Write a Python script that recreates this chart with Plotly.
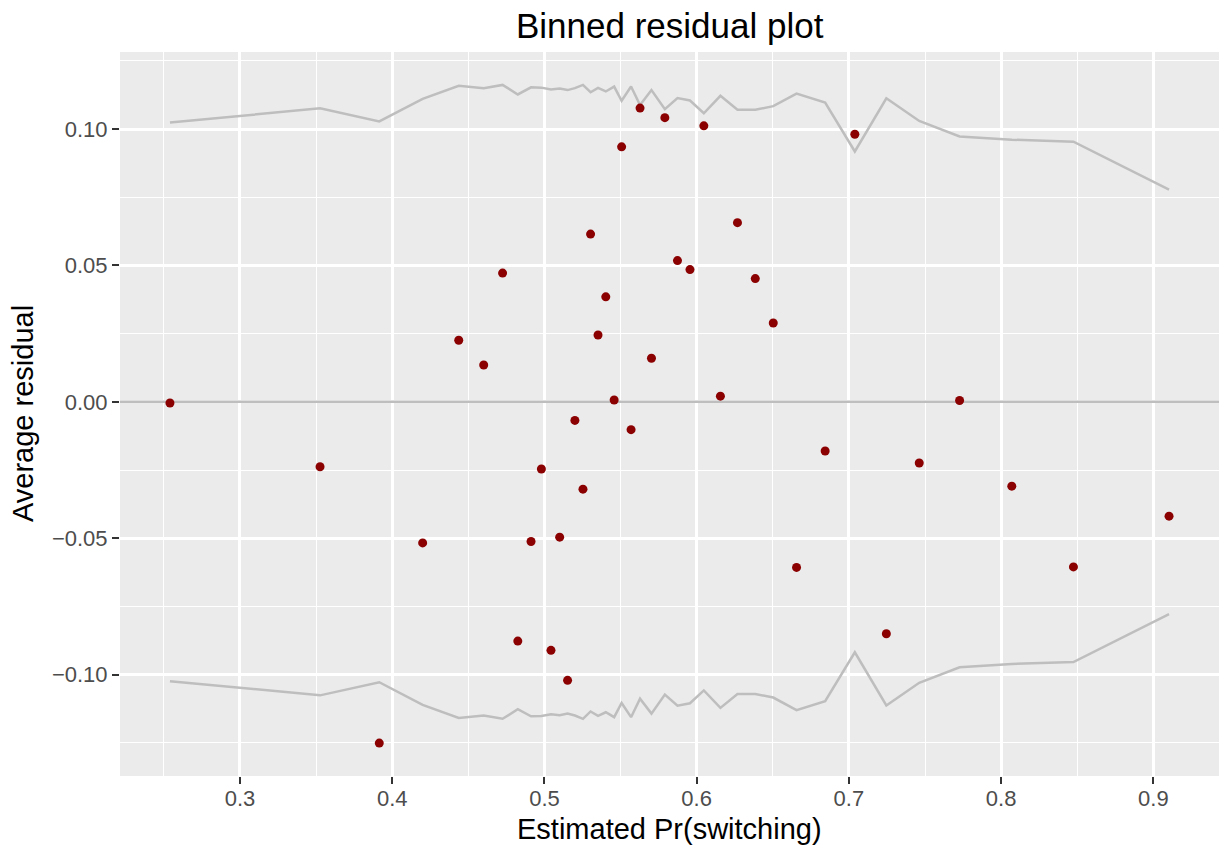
import plotly.graph_objects as go

# Binned residuals: mean estimated probability per bin, average residual, +/- 2 SE bound
est_pr = [0.254, 0.3526, 0.3915, 0.4200, 0.4437, 0.4601, 0.4725, 0.4825, 0.4912, 0.4980,
          0.5043, 0.5100, 0.5152, 0.5200, 0.5253, 0.5303, 0.5352, 0.5403, 0.5458, 0.5507,
          0.5569, 0.5628, 0.5703, 0.5791, 0.5874, 0.5956, 0.6047, 0.6156, 0.6268, 0.6385,
          0.6503, 0.6656, 0.6844, 0.7039, 0.7246, 0.7462, 0.7727, 0.8070, 0.8475, 0.9103]
avg_resid = [-0.0004, -0.0238, -0.1251, -0.0517, 0.0226, 0.0135, 0.0472, -0.0877, -0.0512, -0.0246,
             -0.0911, -0.0496, -0.1021, -0.0068, -0.0320, 0.0615, 0.0245, 0.0385, 0.0007, 0.0935,
             -0.0102, 0.1077, 0.0160, 0.1042, 0.0518, 0.0485, 0.1012, 0.0021, 0.0657, 0.0452,
             0.0289, -0.0607, -0.0180, 0.0981, -0.0850, -0.0224, 0.0005, -0.0309, -0.0605, -0.0419]
bound = [0.1024, 0.1076, 0.1028, 0.1111, 0.1159, 0.1150, 0.1162, 0.1127, 0.1153, 0.1152,
         0.1145, 0.1149, 0.1143, 0.1150, 0.1162, 0.1135, 0.1151, 0.1138, 0.1156, 0.1104,
         0.1156, 0.1088, 0.1143, 0.1073, 0.1114, 0.1105, 0.1058, 0.1122, 0.1071, 0.1071,
         0.1084, 0.1130, 0.1097, 0.0918, 0.1113, 0.1030, 0.0973, 0.0961, 0.0954, 0.0778]
upper = bound
lower = [-b for b in bound]
zero_line = 0.0

x_ticks = [0.3, 0.4, 0.5, 0.6, 0.7, 0.8, 0.9]
y_ticks = [-0.10, -0.05, 0.00, 0.05, 0.10]

# ggplot-like 5% expansion of data ranges
def expand(lo, hi, f=0.05):
    d = (hi - lo) * f
    return [lo - d, hi + d]

x_range = expand(min(est_pr), max(est_pr))
y_range = expand(min(min(avg_resid), min(lower)), max(max(avg_resid), max(upper)))

GREY = "#BEBEBE"
FONT = "Liberation Sans, Arial, Helvetica, sans-serif"

fig = go.Figure()
# horizontal reference line at zero, spanning the full panel
fig.add_trace(go.Scatter(x=x_range, y=[zero_line, zero_line], mode="lines",
                         line=dict(color=GREY, width=2.5), hoverinfo="skip"))
fig.add_trace(go.Scatter(x=est_pr, y=upper, mode="lines",
                         line=dict(color=GREY, width=2.5), hoverinfo="skip"))
fig.add_trace(go.Scatter(x=est_pr, y=lower, mode="lines",
                         line=dict(color=GREY, width=2.5), hoverinfo="skip"))
fig.add_trace(go.Scatter(x=est_pr, y=avg_resid, mode="markers",
                         marker=dict(color="#8B0000", size=9, line=dict(width=0))))

axis_common = dict(
    showline=False, zeroline=False, showgrid=True, automargin=False,
    gridcolor="white", gridwidth=2.6,
    ticks="outside", ticklen=7, tickwidth=2.4, tickcolor="#333333",
    tickfont=dict(family=FONT, size=22, color="#4D4D4D"),
)

fig.update_layout(
    width=1219, height=845,
    paper_bgcolor="white", plot_bgcolor="#EBEBEB",
    margin=dict(l=120, r=0, t=52, b=69),
    showlegend=False,
    xaxis=dict(axis_common, range=x_range, tickmode="array", tickvals=x_ticks,
               ticktext=[f"{v:.1f}" for v in x_ticks], ticklabelstandoff=-4,
               minor=dict(dtick=0.05, tick0=0.25, showgrid=True, gridcolor="white",
                          gridwidth=1.3, ticks="")),
    yaxis=dict(axis_common, range=y_range, tickmode="array", tickvals=y_ticks,
               ticktext=[f"{v:.2f}".replace("-", "\u2212") for v in y_ticks],
               minor=dict(dtick=0.025, tick0=0.025, showgrid=True, gridcolor="white",
                          gridwidth=1.3, ticks="")),
    annotations=[
        dict(text="Binned residual plot", xref="paper", yref="paper", x=0.5, y=1,
             xanchor="center", yanchor="middle", yshift=27, showarrow=False,
             font=dict(family=FONT, size=35, color="black")),
        dict(text="Estimated Pr(switching)", xref="paper", yref="paper", x=0.5, y=0,
             xanchor="center", yanchor="middle", yshift=-53, showarrow=False,
             font=dict(family=FONT, size=29, color="black")),
        dict(text="Average residual", xref="paper", yref="paper", x=0, y=0.5,
             xanchor="center", yanchor="middle", xshift=-97, textangle=-90, showarrow=False,
             font=dict(family=FONT, size=29, color="black")),
    ],
)

# remove the browser's default 8px body margin so the figure fills the window exactly
fig.write_html("out.html", config={"displayModeBar": False},
               post_script="document.body.style.margin='0';document.body.style.overflow='hidden';")
